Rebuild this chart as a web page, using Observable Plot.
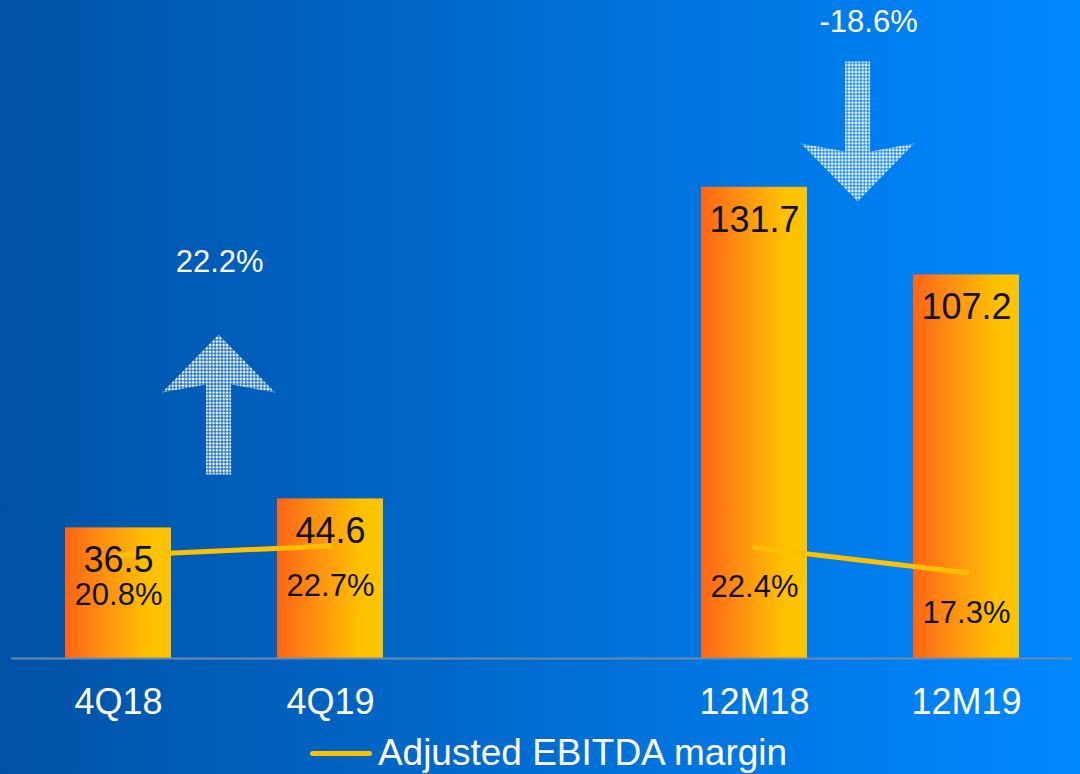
<!DOCTYPE html>
<html>
<head>
<meta charset="utf-8">
<script src="https://cdn.jsdelivr.net/npm/d3@7"></script>
<script src="https://cdn.jsdelivr.net/npm/@observablehq/plot@0.6"></script>
<style>
  html, body { margin: 0; padding: 0; }
  body {
    width: 1080px; height: 774px; overflow: hidden;
    background: linear-gradient(to right, #0052a5, #0088ff);
    font-family: "Liberation Sans", Arial, sans-serif;
  }
  #legend {
    height: 42px; display: flex; align-items: center; justify-content: center;
    padding-left: 17px; box-sizing: border-box;
    color: #fff; font-size: 37px;
  }
  #legend .swatch { width: 62px; height: 5px; background: #FFC000; border-radius: 3px; margin-right: 6px; }
</style>
</head>
<body>
<div id="chart"></div>
<div id="legend"><span class="swatch"></span><span>Adjusted EBITDA margin</span></div>
<script>
// ---- data ----
const categories = ["4Q18", "4Q19", "", "12M18", "12M19"];
const periods = ["4Q18", "4Q19", "12M18", "12M19"];
const groups = ["Quarter", "Quarter", "Year", "Year"];
const ebitda = [36.5, 44.6, 131.7, 107.2];
const marginPct = [20.8, 22.7, 22.4, 17.3];
const changeFrom = ["4Q18", "12M18"];
const changeLabels = ["22.2%", "-18.6%"];
const changeDirs = ["up", "down"];

// ---- layout ----
const W = 1080, H = 732;
const mL = 11, mR = 8, mT = 14, mB = 74;
const yMax = 180;          // bar axis max
const marginAxisMax = 130; // secondary (margin %) axis max
const step = (W - mL - mR) / 5;
const annotLayout = {
  up:   {arrowY: 71, textY: 110.7, dx: step / 2 - 6, tdx: step / 2 - 5},
  down: {arrowY: 147.3, textY: 177.8, dx: step / 2 - 3, tdx: step / 2 + 8}
};

const rows = periods.map((p, i) => ({period: p, group: groups[i], value: ebitda[i], margin: marginPct[i]}));
const changes = changeFrom.map((f, i) => ({from: f, label: changeLabels[i], dir: changeDirs[i]}));
const mY = d => d.margin * yMax / marginAxisMax;

const upArrow = {draw(c) {
  c.moveTo(0, -70); c.lineTo(56.5, -12); c.lineTo(12.5, -20); c.lineTo(12.5, 70);
  c.lineTo(-12.5, 70); c.lineTo(-12.5, -20); c.lineTo(-56.5, -12); c.closePath();
}};
const downArrow = {draw(c) {
  c.moveTo(0, 70); c.lineTo(56.5, 12); c.lineTo(12.5, 20); c.lineTo(12.5, -70);
  c.lineTo(-12.5, -70); c.lineTo(-12.5, 20); c.lineTo(-56.5, 12); c.closePath();
}};

const marks = [
  Plot.barY(rows, {x: "period", y: "value", fill: "url(#barGrad)"}),
  Plot.ruleY([0], {stroke: "#6f8aa8", strokeWidth: 2}),
  Plot.line(rows, {x: "period", y: mY, z: "group", stroke: "#FFC000", strokeWidth: 5, strokeLinecap: "round"}),
  Plot.text(rows, {x: "period", y: "value", text: d => d.value.toFixed(1), dy: 33, fontSize: 36, fill: "#111"}),
  Plot.text(rows, {x: "period", y: mY, text: d => d.margin.toFixed(1) + "%", dy: 40, fontSize: 31, fill: "#111"})
];
for (const dir of ["up", "down"]) {
  const sub = changes.filter(d => d.dir === dir);
  const L = annotLayout[dir];
  marks.push(Plot.dot(sub, {x: "from", y: () => L.arrowY, dx: L.dx, symbol: dir === "up" ? upArrow : downArrow, fill: "url(#dotPattern)", stroke: "none"}));
  marks.push(Plot.text(sub, {x: "from", y: () => L.textY, dx: L.tdx, text: "label", fontSize: 31, fill: "#fff"}));
}
marks.push(Plot.axisX({tickSize: 0, tickPadding: 30, fontSize: 36, color: "#fff", tickFormat: d => d}));

const chart = Plot.plot({
  width: W, height: H,
  marginLeft: mL, marginRight: mR, marginTop: mT, marginBottom: mB,
  style: {background: "transparent", fontFamily: "Liberation Sans, Arial, sans-serif", overflow: "visible"},
  x: {domain: categories, paddingInner: 0.5, paddingOuter: 0.25, label: null},
  y: {domain: [0, yMax], axis: null},
  marks
});

const svg = d3.select(chart);
const defs = svg.insert("defs", ":first-child");
const g = defs.append("linearGradient").attr("id", "barGrad").attr("x1", 0).attr("x2", 1).attr("y1", 0).attr("y2", 0);
g.append("stop").attr("offset", "0").attr("stop-color", "#FF6415");
g.append("stop").attr("offset", "0.4").attr("stop-color", "#FF9410");
g.append("stop").attr("offset", "0.78").attr("stop-color", "#FFC000");
g.append("stop").attr("offset", "1").attr("stop-color", "#FFC400");
const p = defs.append("pattern").attr("id", "dotPattern").attr("patternUnits", "userSpaceOnUse").attr("width", 3.4).attr("height", 3.4);
p.append("rect").attr("width", 3.4).attr("height", 3.4).attr("fill", "rgba(255,255,255,0.15)");
p.append("circle").attr("cx", 1.7).attr("cy", 1.7).attr("r", 1.25).attr("fill", "#fff");

document.getElementById("chart").appendChild(chart);
</script>
</body>
</html>
